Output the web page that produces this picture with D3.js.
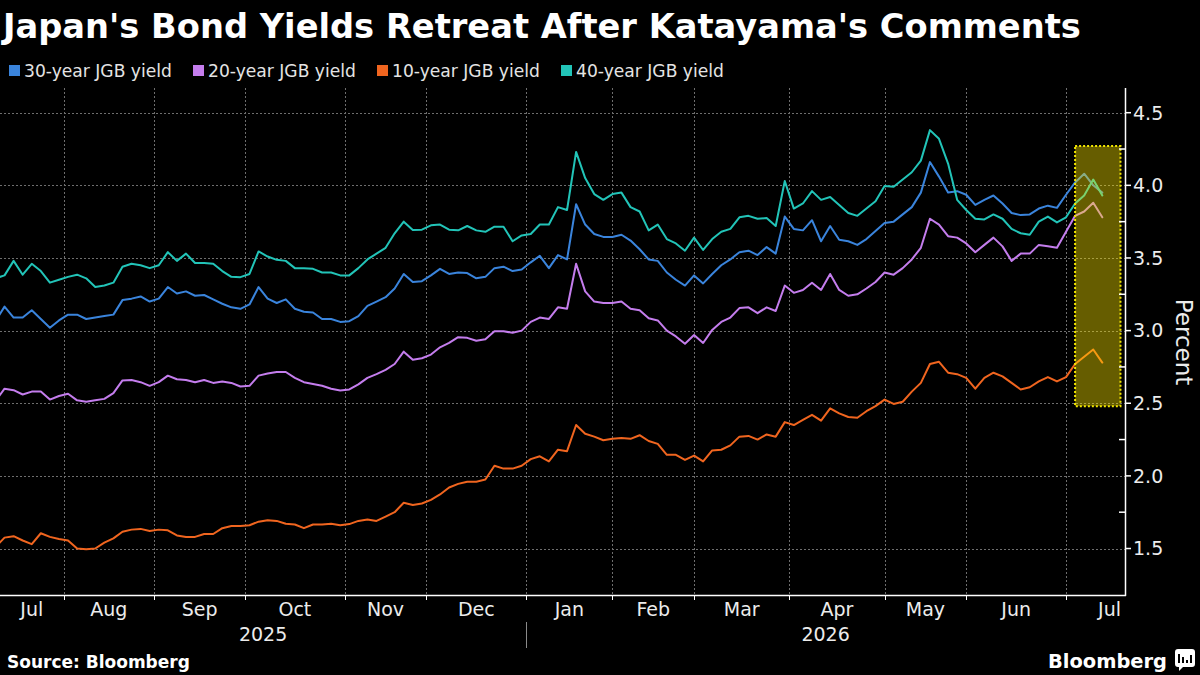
<!DOCTYPE html>
<html><head><meta charset="utf-8">
<script src="https://cdn.jsdelivr.net/npm/d3@7"></script>
<style>
html,body{margin:0;padding:0;background:#000;}
svg{display:block;}
text{font-family:"DejaVu Sans",sans-serif;}
</style></head><body>
<svg id="chart" width="1200" height="675"></svg>
<script>
// ---------------- data ----------------
const titleText = "Japan's Bond Yields Retreat After Katayama's Comments";
const seriesNames = ["30-year JGB yield", "20-year JGB yield", "10-year JGB yield", "40-year JGB yield"];
const seriesColors = ["#3a84dc", "#c47ded", "#f0651f", "#22c4b8"];
const yTicks = [1.5, 2.0, 2.5, 3.0, 3.5, 4.0, 4.5];
const yMinorTicks = [1.75, 2.25, 2.75, 3.25, 3.75, 4.25];
const monthLabels = ["Jul", "Aug", "Sep", "Oct", "Nov", "Dec", "Jan", "Feb", "Mar", "Apr", "May", "Jun", "Jul"];
const yearLabels = ["2025", "2026"];
// Tokyo market holidays inside the window (sessions are trading days only)
const holidays = ["2025-07-21","2025-08-11","2025-09-15","2025-09-23","2025-10-13","2025-11-03","2025-11-24",
  "2025-12-31","2026-01-01","2026-01-02","2026-01-12","2026-02-11","2026-02-23","2026-03-20","2026-04-29",
  "2026-05-04","2026-05-05","2026-05-06","2026-07-20"];
const firstDate = "2025-07-10";      // first observation
const axisEndDate = "2026-07-21";    // right end of the time axis
const sampleStep = 2;                // one observation every 2 trading sessions
const highlightStart = "2026-07-03", highlightEnd = "2026-07-17";
const highlightLow = 2.48, highlightHigh = 4.27;

const y30 = [3.065,3.165,3.09,3.09,3.14,3.08,3.02,3.07,3.11,3.11,3.08,3.09,3.10,3.11,
  3.21,3.22,3.235,3.20,3.22,3.30,3.255,3.27,3.24,3.245,3.215,3.185,3.16,
  3.15,3.18,3.30,3.22,3.19,3.215,3.15,3.13,3.125,3.08,3.08,3.06,3.065,
  3.10,3.17,3.20,3.23,3.29,3.39,3.335,3.34,3.38,3.425,3.39,3.40,3.396,
  3.36,3.37,3.43,3.44,3.41,3.42,3.47,3.515,3.43,3.52,3.49,3.87,3.73,
  3.665,3.645,3.645,3.66,3.62,3.56,3.49,3.48,3.40,3.35,3.31,3.38,3.325,
  3.39,3.45,3.49,3.54,3.55,3.52,3.575,3.53,3.785,3.70,3.69,3.76,3.615,
  3.72,3.625,3.615,3.59,3.63,3.685,3.74,3.75,3.80,3.85,3.95,4.16,4.06,
  3.95,3.96,3.935,3.865,3.90,3.93,3.875,3.81,3.795,3.80,3.84,3.86,3.845,
  3.935,4.02,4.08,4.00,3.95];
const y20 = [2.515,2.60,2.59,2.56,2.58,2.58,2.525,2.55,2.565,2.52,2.51,2.52,2.53,2.57,
  2.657,2.66,2.645,2.62,2.645,2.69,2.665,2.66,2.645,2.66,2.64,2.65,2.64,
  2.615,2.62,2.69,2.705,2.715,2.715,2.675,2.645,2.632,2.62,2.60,2.588,2.595,
  2.63,2.675,2.70,2.73,2.77,2.855,2.80,2.81,2.835,2.885,2.915,2.955,2.95,
  2.93,2.94,2.995,2.995,2.985,3.00,3.06,3.09,3.08,3.16,3.15,3.46,3.27,
  3.20,3.19,3.19,3.20,3.15,3.14,3.085,3.07,3.00,2.96,2.91,2.97,2.915,
  3.005,3.06,3.09,3.155,3.16,3.12,3.16,3.135,3.31,3.26,3.28,3.33,3.28,
  3.39,3.28,3.24,3.25,3.29,3.335,3.40,3.385,3.43,3.49,3.57,3.77,3.73,
  3.65,3.64,3.60,3.54,3.59,3.64,3.58,3.48,3.53,3.53,3.59,3.58,3.57,
  3.68,3.79,3.82,3.88,3.78];
const y10 = [1.51,1.575,1.585,1.555,1.53,1.605,1.58,1.565,1.555,1.50,1.495,1.50,1.54,1.57,
  1.615,1.63,1.635,1.62,1.63,1.625,1.59,1.58,1.58,1.60,1.60,1.64,1.655,
  1.655,1.66,1.685,1.695,1.69,1.67,1.665,1.64,1.665,1.665,1.67,1.66,1.668,
  1.69,1.70,1.69,1.72,1.75,1.815,1.80,1.81,1.835,1.872,1.92,1.945,1.96,
  1.96,1.975,2.07,2.05,2.05,2.07,2.115,2.135,2.10,2.18,2.17,2.35,2.29,
  2.27,2.245,2.255,2.26,2.255,2.28,2.24,2.22,2.145,2.145,2.11,2.14,2.10,
  2.175,2.18,2.21,2.27,2.275,2.25,2.285,2.27,2.37,2.35,2.385,2.42,2.38,
  2.465,2.43,2.405,2.40,2.445,2.48,2.525,2.495,2.51,2.58,2.64,2.77,2.785,
  2.71,2.70,2.675,2.60,2.675,2.71,2.685,2.64,2.595,2.61,2.65,2.68,2.65,
  2.68,2.77,2.82,2.87,2.78];
const y40 = [3.36,3.38,3.48,3.385,3.46,3.41,3.33,3.35,3.37,3.385,3.36,3.30,3.31,3.33,
  3.44,3.46,3.45,3.43,3.45,3.54,3.48,3.53,3.465,3.465,3.46,3.41,3.37,
  3.368,3.39,3.545,3.51,3.487,3.48,3.43,3.43,3.425,3.40,3.40,3.38,3.38,
  3.43,3.49,3.53,3.57,3.67,3.75,3.693,3.695,3.725,3.73,3.695,3.69,3.72,
  3.69,3.68,3.715,3.715,3.615,3.655,3.665,3.73,3.73,3.85,3.83,4.23,4.05,
  3.94,3.90,3.94,3.95,3.85,3.82,3.69,3.73,3.63,3.60,3.55,3.64,3.555,
  3.63,3.68,3.70,3.78,3.79,3.77,3.775,3.72,4.03,3.84,3.875,3.96,3.90,
  3.92,3.865,3.81,3.79,3.84,3.89,3.995,3.99,4.04,4.09,4.17,4.38,4.32,
  4.15,3.90,3.83,3.77,3.765,3.80,3.77,3.70,3.67,3.66,3.75,3.785,3.745,
  3.78,3.875,3.93,4.04,3.93];
const seriesValues = [y30, y20, y10, y40];

// ---------------- layout ----------------
const W = 1200, H = 675;
const plot = {left: 0, right: 1125, top: 88, bottom: 595};
const svg = d3.select("#chart");
svg.append("rect").attr("width", W).attr("height", H).attr("fill", "#000");

const parse = d3.utcParse("%Y-%m-%d");
const fmt = d3.utcFormat("%Y-%m-%d");
const holidaySet = new Set(holidays);
const tradingDays = d3.utcDays(parse(firstDate), d3.utcDay.offset(parse(axisEndDate), 1))
  .filter(d => d.getUTCDay() % 6 !== 0 && !holidaySet.has(fmt(d)));
const idxOf = new Map(tradingDays.map((d, i) => [fmt(d), i]));
const sampleIdx = y30.map((_, j) => j * sampleStep);

const x = d3.scaleLinear().domain([1, tradingDays.length - 1]).range([plot.left, plot.right]);
const y = d3.scaleLinear().domain([1.18, 4.67]).range([plot.bottom, plot.top]);

// month boundaries = first trading day of each month
const monthStarts = d3.utcMonths(parse("2025-08-01"), parse("2026-08-01"));
const monthTickIdx = monthStarts.map(m => tradingDays.findIndex(d => d >= m));
const monthTickX = monthTickIdx.map(i => x(i));

// grid
const grid = svg.append("g").attr("stroke", "#6e6e6e").attr("stroke-width", 1).attr("stroke-dasharray", "2,2");
grid.selectAll("line.h").data(yTicks).join("line")
  .attr("x1", plot.left).attr("x2", plot.right)
  .attr("y1", d => Math.round(y(d)) + 0.5).attr("y2", d => Math.round(y(d)) + 0.5);
grid.selectAll("line.v").data(monthTickX).join("line")
  .attr("x1", d => Math.round(d) + 0.5).attr("x2", d => Math.round(d) + 0.5)
  .attr("y1", plot.top).attr("y2", plot.bottom);

// lines
svg.append("clipPath").attr("id", "clip").append("rect")
  .attr("x", plot.left).attr("y", plot.top).attr("width", plot.right - plot.left).attr("height", plot.bottom - plot.top);
const lineGen = d3.line().x((d, i) => x(sampleIdx[i])).y(d => y(d));
const lines = svg.append("g").attr("clip-path", "url(#clip)");
seriesValues.forEach((vals, s) => {
  lines.append("path").datum(vals).attr("d", lineGen)
    .attr("fill", "none").attr("stroke", seriesColors[s]).attr("stroke-width", 2)
    .attr("stroke-linejoin", "round").attr("stroke-linecap", "round");
});

// highlight box
const bx0 = x(idxOf.get(highlightStart)), bx1 = x(idxOf.get(highlightEnd));
svg.append("rect").attr("x", bx0).attr("y", y(highlightHigh))
  .attr("width", bx1 - bx0).attr("height", y(highlightLow) - y(highlightHigh))
  .attr("fill", "rgb(255,232,0)").attr("fill-opacity", 0.4)
  .attr("stroke", "#f2e600").attr("stroke-width", 2).attr("stroke-dasharray", "2,2");

// axes
const axisG = svg.append("g");
axisG.append("line").attr("x1", plot.right + 0.5).attr("x2", plot.right + 0.5)
  .attr("y1", plot.top).attr("y2", plot.bottom + 1).attr("stroke", "#fff").attr("stroke-width", 1.5);
axisG.append("line").attr("x1", plot.left).attr("x2", plot.right + 1)
  .attr("y1", plot.bottom + 0.5).attr("y2", plot.bottom + 0.5).attr("stroke", "#fff").attr("stroke-width", 1.5);
axisG.selectAll("line.yt").data(yTicks).join("line")
  .attr("x1", plot.right).attr("x2", plot.right + 6)
  .attr("y1", d => y(d)).attr("y2", d => y(d)).attr("stroke", "#fff").attr("stroke-width", 1.5);
axisG.selectAll("line.ym").data(yMinorTicks).join("line")
  .attr("x1", plot.right - 6).attr("x2", plot.right)
  .attr("y1", d => y(d)).attr("y2", d => y(d)).attr("stroke", "#fff").attr("stroke-width", 1.5);
axisG.selectAll("text.yl").data(yTicks).join("text")
  .attr("x", plot.right + 8).attr("y", d => y(d)).attr("dy", "0.36em")
  .attr("fill", "#ececec").attr("font-size", 19).text(d => d.toFixed(1));
svg.append("text").attr("transform", `translate(1176,342) rotate(90)`)
  .attr("text-anchor", "middle").attr("fill", "#ececec").attr("font-size", 23).text("Percent");

axisG.selectAll("line.xt").data(monthTickX).join("line")
  .attr("x1", d => Math.round(d) + 0.5).attr("x2", d => Math.round(d) + 0.5)
  .attr("y1", plot.bottom).attr("y2", plot.bottom + 5).attr("stroke", "#fff").attr("stroke-width", 1);
const bounds = [plot.left, ...monthTickX, plot.right];
axisG.selectAll("text.xl").data(monthLabels).join("text")
  .attr("x", (d, i) => i === monthLabels.length - 1 ? plot.right - 4 : (bounds[i] + bounds[i + 1]) / 2)
  .attr("text-anchor", (d, i) => i === monthLabels.length - 1 ? "end" : "middle")
  .attr("y", 616).attr("fill", "#ececec").attr("font-size", 19).text(d => d);
const janX = monthTickX[5];
const yearCenters = [(plot.left + janX) / 2, (janX + plot.right) / 2];
axisG.selectAll("text.yr").data(yearLabels).join("text")
  .attr("x", (d, i) => yearCenters[i]).attr("y", 641).attr("text-anchor", "middle")
  .attr("fill", "#ececec").attr("font-size", 19).text(d => d);
axisG.append("line").attr("x1", Math.round(janX) + 0.5).attr("x2", Math.round(janX) + 0.5)
  .attr("y1", 622).attr("y2", 648).attr("stroke", "#8a8a8a").attr("stroke-width", 1);

// helper to fit a text to a target width
function fit(sel, target) {
  const fs = parseFloat(sel.attr("font-size"));
  const w = sel.node().getComputedTextLength();
  sel.attr("font-size", (fs * target / w).toFixed(2));
}

// title
const title = svg.append("text").attr("x", 3).attr("y", 38)
  .attr("font-family", "'Liberation Sans', Arial, sans-serif").attr("font-weight", "bold")
  .attr("font-size", 38).attr("fill", "#fff").text(titleText);
fit(title, 1078);

// legend
const leg = svg.append("g");
seriesNames.forEach((n, i) => {
  const gx = 9 + i * 184;
  leg.append("rect").attr("x", gx).attr("y", 65).attr("width", 11).attr("height", 11).attr("fill", seriesColors[i]);
  const t = leg.append("text").attr("x", gx + 15).attr("y", 77).attr("font-size", 17)
    .attr("fill", "#e4e4e4").text(n);
  fit(t, 148);
});

// footer
const src = svg.append("text").attr("x", 7).attr("y", 668).attr("font-weight", "bold")
  .attr("font-size", 15).attr("fill", "#fff").text("Source: Bloomberg");
fit(src, 183);
const logo = svg.append("text").attr("x", 1048).attr("y", 668)
  .attr("font-family", "'Liberation Sans', Arial, sans-serif").attr("font-weight", "bold")
  .attr("font-size", 21).attr("fill", "#fff").text("Bloomberg");
fit(logo, 119);
const ic = svg.append("g").attr("transform", "translate(1175,649)");
ic.append("path").attr("d", "M3,0 H17 Q20,0 20,3 V15 Q20,18 17,18 H8 L4,22 V18 H3 Q0,18 0,15 V3 Q0,0 3,0 Z").attr("fill", "#fff");
[[4, 9], [8, 6], [12, 3], [16, 8]].forEach(([bx, bh], k) => {
  ic.append("rect").attr("x", bx - 1).attr("y", 14 - bh).attr("width", 2).attr("height", bh).attr("fill", "#000");
});
</script>
</body></html>
